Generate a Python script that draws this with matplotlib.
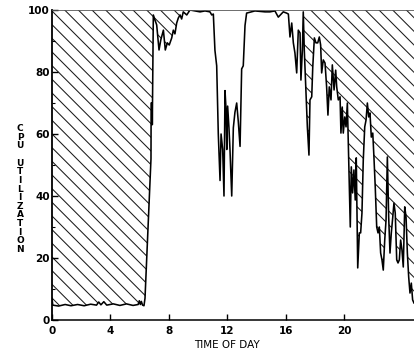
import numpy as np
import matplotlib.pyplot as plt

# hatch spacing is tied to dpi, so render at a lower dpi and scale sizes up
DPI = 82
S = 100 / DPI
plt.rcParams["hatch.linewidth"] = 0.75 * S

# ── Data ────────────────────────────────────────────────────
hours = [0.00, 0.05, 0.45, 0.90, 1.30, 1.75, 2.20, 2.65, 3.05, 3.20, 3.35, 3.55,
         3.75, 4.20, 4.65, 5.10, 5.55, 5.90, 5.98, 6.05, 6.12, 6.20, 6.30,
         6.37, 6.58, 6.78, 6.79, 6.86, 6.87, 6.90, 6.94,
         7.05, 7.17, 7.33, 7.45, 7.63, 7.76, 7.90, 8.03, 8.20, 8.31, 8.42, 8.54,
         8.65, 8.77, 8.88, 8.99, 9.23, 9.45, 9.79, 10.14, 10.48, 10.82, 10.94, 11.05,
         11.16, 11.28, 11.39, 11.51, 11.58, 11.69, 11.78, 11.85, 11.92, 11.97, 12.03,
         12.12, 12.19, 12.31, 12.42, 12.53, 12.65, 12.76, 12.88, 12.99, 13.10, 13.22,
         13.33, 13.90, 14.59, 14.93, 15.27, 15.50, 15.84, 16.07, 16.19,
         16.30, 16.42, 16.53, 16.64, 16.76, 16.87, 16.99, 17.05, 17.15, 17.21, 17.28,
         17.40, 17.49, 17.60, 17.67, 17.79, 17.86, 17.97, 18.08, 18.20, 18.31, 18.40,
         18.47, 18.58, 18.70, 18.81, 18.90, 18.99, 19.11, 19.20, 19.32, 19.43, 19.50,
         19.61, 19.73, 19.79, 19.88, 19.95, 20.05, 20.14, 20.23, 20.29, 20.36, 20.43,
         20.50, 20.59, 20.68, 20.77, 20.84, 20.94, 21.05, 21.14, 21.23, 21.32, 21.42,
         21.51, 21.60, 21.69, 21.78, 21.87, 21.97, 22.05, 22.14, 22.24, 22.33, 22.42,
         22.51, 22.60, 22.69, 22.79, 22.88, 22.97, 23.06, 23.15, 23.24, 23.34, 23.42,
         23.51, 23.61, 23.70, 23.79, 23.88, 23.97, 24.06, 24.16, 24.25, 24.34, 24.43,
         24.52, 24.61, 24.70, 24.79]
cpu = [7.0, 4.8, 4.5, 5.0, 4.6, 5.0, 4.6, 5.1, 4.8, 5.8, 4.9, 5.9,
       4.8, 5.2, 4.7, 5.2, 4.7, 5.0, 6.2, 5.0, 6.0, 4.8, 4.6,
       7.0, 30.0, 52.0, 70.0, 70.0, 63.0, 80.0, 98.4,
       96.8, 95.2, 87.1, 90.3, 93.5, 87.1, 89.4, 88.7, 91.0, 93.5, 92.3, 95.8,
       97.4, 98.4, 97.1, 99.4, 98.4, 100.0, 99.7, 99.4, 99.7, 99.4, 98.4, 98.7,
       87.0, 82.0, 60.0, 45.0, 60.0, 55.0, 40.0, 74.0, 68.0, 55.0, 69.0,
       62.0, 55.0, 40.0, 62.0, 67.0, 70.0, 64.0, 56.0, 81.0, 82.0, 95.0,
       99.0, 99.7, 99.4, 99.4, 99.7, 97.7, 99.4, 99.0, 98.7,
       91.3, 95.8, 89.4, 86.1, 79.7, 93.5, 92.6, 77.4, 87.1, 99.4, 87.1,
       73.2, 62.3, 53.2, 71.0, 72.0, 81.6, 91.0, 89.4, 89.4, 91.3, 88.7,
       79.7, 83.9, 82.9, 75.2, 66.1, 75.2, 71.0, 82.3, 74.2, 80.6, 75.2,
       71.0, 72.0, 60.3, 68.7, 60.3, 65.5, 62.3, 70.0, 58.0, 42.9, 30.0,
       49.4, 41.0, 48.4, 38.7, 52.3, 16.8, 28.1, 28.1, 34.5, 51.6, 62.3,
       64.5, 70.0, 65.5, 66.8, 59.0, 60.3, 52.6, 42.9, 30.0, 28.1, 30.0,
       21.6, 19.4, 16.1, 25.8, 32.3, 52.6, 33.2, 21.6, 28.1, 33.2, 37.7,
       34.5, 19.4, 18.4, 19.4, 25.8, 22.6, 17.1, 36.5, 33.2, 21.6, 13.9,
       8.7, 11.9, 6.5, 5.5]

x_ticks = [0, 4, 8, 12, 16, 20]
y_ticks = [0, 20, 40, 60, 80, 100]
y_minor = [10, 30, 50, 70, 90]
hatch_spans = [(0.0, 9.5), (17.2, 25.0)]   # shaded idle capacity

# ── Plot ─────────────────────────────────────────────────────
fig = plt.figure(figsize=(414 / DPI, 352 / DPI), dpi=DPI)
ax = fig.add_axes([52 / 414, 32 / 352, 365 / 414, 310 / 352])

h = np.array(hours)
u = np.array(cpu)
mask = np.zeros(len(h), dtype=bool)
for a, b in hatch_spans:
    mask |= (h >= a) & (h <= b)

ax.fill_between(h, u, 100, where=mask, facecolor="none", edgecolor="#1a1a1a",
                hatch="\\\\", linewidth=0)
ax.plot(h, u, color="black", linewidth=1.15 * S)

ax.set_xlim(0, 25)
ax.set_ylim(0, 100)
ax.set_xticks(x_ticks)
ax.set_yticks(y_ticks)
ax.set_yticks(y_minor, minor=True)

ax.tick_params(axis="both", which="major", direction="in", length=4 * S, width=1 * S,
               labelsize=7.5 * S, colors="black")
ax.tick_params(axis="y", which="major", pad=1.5 * S)
ax.tick_params(axis="x", which="major", pad=4 * S)
ax.tick_params(axis="y", which="minor", direction="in", length=2.5 * S, width=0.8 * S)
for lbl in ax.get_xticklabels() + ax.get_yticklabels():
    lbl.set_fontweight("bold")

ax.spines["right"].set_visible(False)
ax.spines["top"].set_linewidth(0.6 * S)
ax.spines["top"].set_color("#555555")
ax.spines["left"].set_linewidth(1.3 * S)
ax.spines["bottom"].set_linewidth(1.1 * S)

fig.text(20 / 414, 1 - 189 / 352, "\n".join("CPU UTILIZATION"),
         ha="center", va="center", fontsize=6.5 * S, fontweight="bold",
         linespacing=0.95)
fig.text(226.5 / 414, 1 - 345 / 352, "TIME OF DAY", ha="center", va="center",
         fontsize=7.5 * S)

fig.savefig("out.png", dpi=DPI)
